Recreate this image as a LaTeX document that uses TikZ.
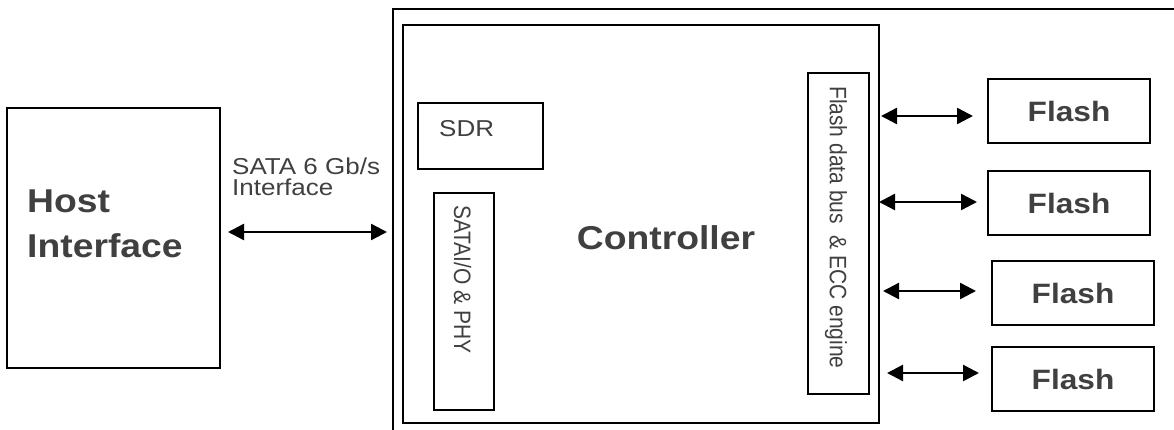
\documentclass[tikz,border=0pt]{standalone}
\usepackage{fontspec}
\usepackage{graphicx}
\setmainfont{Liberation Sans}
\usetikzlibrary{arrows.meta}
\definecolor{txt}{HTML}{404040}
\newcommand\hstretch[1]{\scalebox{1.13}[1]{#1}}
\newcommand\vstretch[1]{\scalebox{1}[1.13]{#1}}
\begin{document}
\begin{tikzpicture}[x=1pt,y=1pt,
  box/.style={draw=black, line width=2pt, inner sep=0pt},
  lbl/.style={text=txt, inner sep=0pt},
  bigbold/.style={font=\fontsize{33}{36}\selectfont\bfseries},
  flashbox/.style={box, minimum width=162pt, minimum height=64pt, text=txt, font=\fontsize{28}{30}\selectfont\bfseries},
  small/.style={font=\fontsize{21}{24}\selectfont},
  mid/.style={font=\fontsize{23}{25}\selectfont},
  biarrow/.style={line width=2.4pt, {Triangle[length=16pt,width=16pt]}-{Triangle[length=16pt,width=16pt]}},
]
\useasboundingbox (0,0) rectangle (1174,-430);
\fill[white] (0,0) rectangle (1174,-430);

% Host interface
\node[box, minimum width=213pt, minimum height=260pt] (host) at (113.5,-238) {};
\node[lbl, bigbold, anchor=base west] (hostA) at (27,-213) {\hstretch{Host}};
\node[lbl, bigbold, anchor=base west] (hostB) at (27,-258) {\hstretch{Interface}};

% SATA label
\node[lbl, mid, anchor=base west] (sataA) at (232,-175) {\hstretch{SATA 6 Gb/s}};
\node[lbl, mid, anchor=base west] (sataB) at (232,-196) {\hstretch{Interface}};

% outer frame
\coordinate (fbl) at (393,-432);
\coordinate (ftl) at (393,-9.5);
\coordinate (ftr) at (1176,-9.5);
\draw[line width=2pt] (fbl) -- (ftl) -- (ftr);

% controller
\node[box, minimum width=476pt, minimum height=398pt] (ctrl) at (641,-224) {};
\node[lbl, bigbold, anchor=base] (ctrlT) at (666,-250) {\hstretch{Controller}};

\node[box, minimum width=125pt, minimum height=66pt] (sdr) at (480.5,-136) {};
\node[lbl, mid, anchor=base west] (sdrT) at (439,-137) {\hstretch{SDR}};

\node[box, minimum width=60pt, minimum height=217pt] (sio) at (464,-301.5) {};
\node[lbl, small, rotate=-90, anchor=west] (sioT) at (462.5,-205) {\vstretch{SATAI/O \& PHY}};

\node[box, minimum width=61pt, minimum height=321pt] (fdb) at (838.5,-233.5) {};
\node[lbl, small, rotate=-90, anchor=west] (fdbT) at (836,-86) {\vstretch{Flash data bus \ \& ECC engine}};

% flash boxes
\node[flashbox] (f1) at (1069,-111) {\hstretch{Flash}};
\node[flashbox] (f2) at (1069,-203) {\hstretch{Flash}};
\node[flashbox] (f3) at (1073,-293) {\hstretch{Flash}};
\node[flashbox] (f4) at (1073,-379) {\hstretch{Flash}};

% arrows
\coordinate (h1) at (228,-232); \coordinate (h2) at (387,-232);
\draw[biarrow] (h1) -- (h2);
\coordinate (a1) at (881,-116); \coordinate (b1) at (973,-116);
\coordinate (a2) at (879,-202); \coordinate (b2) at (977,-202);
\coordinate (a3) at (883,-291); \coordinate (b3) at (976,-291);
\coordinate (a4) at (887,-373); \coordinate (b4) at (979,-373);
\draw[biarrow] (a1) -- (b1);
\draw[biarrow] (a2) -- (b2);
\draw[biarrow] (a3) -- (b3);
\draw[biarrow] (a4) -- (b4);
\end{tikzpicture}
\end{document}
